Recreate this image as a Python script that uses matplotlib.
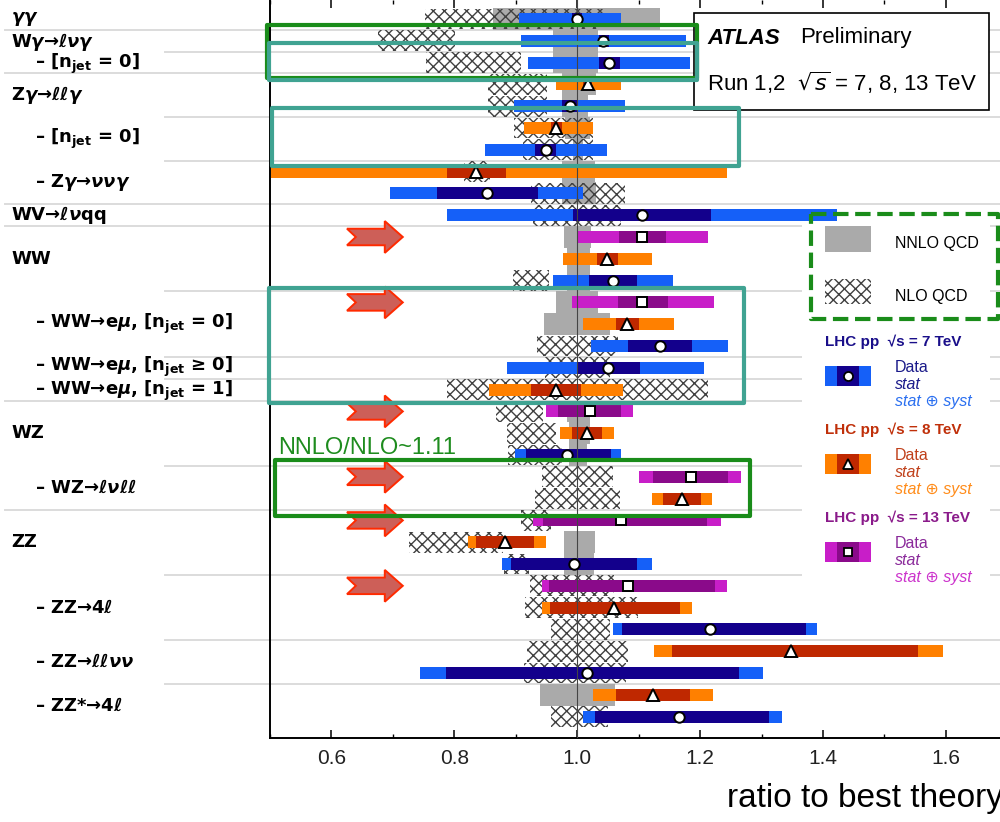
import numpy as np
import matplotlib
matplotlib.use('Agg')
import matplotlib.pyplot as plt
import matplotlib.transforms as mtransforms
from matplotlib.patches import Rectangle, Polygon

plt.rcParams['mathtext.fontset'] = 'custom'
plt.rcParams['mathtext.rm'] = 'DejaVu Sans:bold'
plt.rcParams['mathtext.it'] = 'DejaVu Sans:italic:bold'
plt.rcParams['mathtext.bf'] = 'DejaVu Sans:bold'
plt.rcParams['hatch.linewidth'] = 1.0

# one entry per measurement row, top to bottom
energy = [7, 7, 7, 8, 7, 8, 7, 8, 7, 7, 13, 8, 7, 13, 8, 7, 7, 8,
          13, 8, 7, 13, 8, 13, 8, 7, 13, 8, 7, 8, 7, 8, 7]
centre = [1.000, 1.042, 1.052, 1.017, 0.988, 0.966, 0.949, 0.836, 0.853,
          1.105, 1.106, 1.049, 1.059, 1.106, 1.081, 1.134, 1.050, 0.965,
          1.020, 1.016, 0.983, 1.185, 1.171, 1.071, 0.882, 0.995, 1.083,
          1.060, 1.216, 1.348, 1.016, 1.124, 1.165]
stat_lo = [0.992, 1.036, 1.035, 1.010, 0.975, 0.957, 0.931, 0.788, 0.771,
           0.993, 1.068, 1.032, 1.019, 1.067, 1.063, 1.082, 1.000, 0.924,
           0.969, 0.992, 0.916, 1.124, 1.140, 0.944, 0.835, 0.892, 0.954,
           0.956, 1.073, 1.154, 0.786, 1.063, 1.029]
stat_hi = [1.008, 1.051, 1.070, 1.024, 1.002, 0.975, 0.966, 0.884, 0.936,
           1.217, 1.144, 1.067, 1.098, 1.148, 1.101, 1.186, 1.102, 1.006,
           1.071, 1.041, 1.055, 1.245, 1.201, 1.211, 0.929, 1.098, 1.225,
           1.168, 1.372, 1.555, 1.263, 1.184, 1.312]
tot_lo = [0.906, 0.908, 0.920, 0.965, 0.897, 0.913, 0.850, 0.502, 0.696,
          0.788, 0.999, 0.977, 0.961, 0.992, 1.010, 1.022, 0.885, 0.857,
          0.949, 0.972, 0.899, 1.101, 1.122, 0.928, 0.822, 0.877, 0.943,
          0.942, 1.058, 1.125, 0.744, 1.026, 1.010]
tot_hi = [1.072, 1.177, 1.184, 1.072, 1.078, 1.025, 1.049, 1.243, 1.010,
          1.422, 1.213, 1.121, 1.156, 1.223, 1.158, 1.246, 1.206, 1.074,
          1.091, 1.060, 1.071, 1.267, 1.219, 1.234, 0.949, 1.122, 1.243,
          1.186, 1.390, 1.596, 1.302, 1.221, 1.333]
nan = np.nan
nnlo_lo = [0.863, 0.960, 0.960, 0.975, 0.975, 0.980, 0.993, 0.975, 0.975,
           nan, 0.978, 0.984, 0.984, 0.966, 0.946, nan, nan, nan,
           0.984, 0.987, 0.987, nan, nan, nan, 0.978, 0.978, nan,
           nan, nan, nan, nan, 0.939, nan]
nnlo_hi = [1.135, 1.034, 1.034, 1.030, 1.017, 1.020, 1.009, 1.029, 1.030,
           nan, 1.023, 1.021, 1.021, 1.034, 1.054, nan, nan, nan,
           1.021, 1.021, 1.016, nan, nan, nan, 1.029, 1.027, nan,
           nan, nan, nan, nan, 1.061, nan]
nlo_lo = [0.752, 0.676, 0.754, 0.854, 0.855, 0.897, 0.912, 0.816, 0.924,
          0.928, nan, nan, 0.896, nan, nan, 0.934, 0.947, 0.788,
          0.868, 0.885, 0.888, 0.942, 0.931, 0.909, 0.726, 0.880, 0.923,
          0.915, 0.958, 0.918, 0.914, nan, 0.958]
nlo_hi = [1.042, 0.801, 0.908, 0.950, 0.950, 1.025, 1.026, 0.858, 1.077,
          1.072, nan, nan, 0.954, nan, nan, 1.067, 1.053, 1.212,
          0.944, 0.966, 0.975, 1.059, 1.070, 0.958, 0.879, 0.922, 1.060,
          1.099, 1.053, 1.083, 1.079, nan, 1.050]

labels = [r'$\gamma\gamma$', r'W$\gamma$→$\ell\nu\gamma$', r'– [n$_{\rm jet}$ = 0]',
          r'Z$\gamma$→$\ell\ell\gamma$', r'– [n$_{\rm jet}$ = 0]', r'– Z$\gamma$→$\nu\nu\gamma$',
          r'WV→$\ell\nu$qq', 'WW', r'– WW→e$\mu$, [n$_{\rm jet}$ = 0]',
          r'– WW→e$\mu$, [n$_{\rm jet}$ ≥ 0]', r'– WW→e$\mu$, [n$_{\rm jet}$ = 1]',
          'WZ', r'– WZ→$\ell\nu\ell\ell$', 'ZZ', r'– ZZ→4$\ell$',
          r'– ZZ→$\ell\ell\nu\nu$', r'– ZZ*→4$\ell$']
label_rows = [0, 1.05, 2.05, 3.5, 5.5, 7.5, 9, 11, 14, 15.95, 17.05, 19, 21.5, 24, 27, 29.5, 31.5]
label_sub = [0, 0, 1, 0, 1, 1, 0, 0, 1, 1, 1, 0, 1, 0, 1, 1, 1]

sep_rows = [0.5, 1.5, 2.5, 4.5, 6.5, 8.5, 9.5, 12.5, 15.5, 16.5, 17.5, 20.5,
            22.5, 25.5, 28.5, 30.5]
sep_full = [1, 0, 1, 0, 0, 1, 1, 0, 0, 0, 1, 0, 1, 0, 0, 0]
arrow_rows = [10, 13, 18, 21, 23, 26]

styles = {
    7: dict(tot='#1560f8', stat='#13008c', marker='o', ms=7.5),
    8: dict(tot='#ff8000', stat='#bf2800', marker='^', ms=8),
    13: dict(tot='#c81ec8', stat='#8a0a8a', marker='s', ms=7),
}

fig = plt.figure(figsize=(10, 8.22), dpi=100)
ax = fig.add_axes([0.27, 84 / 822, 0.73, 738 / 822])
pix = mtransforms.Affine2D().scale(1 / 1000, -1 / 822).translate(0, 1) + fig.transFigure
blend = mtransforms.blended_transform_factory(fig.transFigure, ax.transData)

rows = np.arange(len(centre))
energy = np.array(energy)
centre = np.array(centre)
stat_lo, stat_hi = np.array(stat_lo), np.array(stat_hi)
tot_lo, tot_hi = np.array(tot_lo), np.array(tot_hi)
nnlo_lo, nnlo_hi = np.array(nnlo_lo), np.array(nnlo_hi)
nlo_lo, nlo_hi = np.array(nlo_lo), np.array(nlo_hi)

# theory bands
ax.barh(rows, nnlo_hi - nnlo_lo, left=nnlo_lo, height=1.0, color='#aaaaaa', zorder=1)
ax.barh(rows, nlo_hi - nlo_lo, left=nlo_lo, height=0.95, color='none',
        edgecolor='#404040', hatch='xxx', linewidth=0, zorder=2)

# measurements
for e, st in styles.items():
    m = energy == e
    ax.barh(rows[m], (tot_hi - tot_lo)[m], left=tot_lo[m], height=0.55,
            color=st['tot'], zorder=3)
    ax.barh(rows[m], (stat_hi - stat_lo)[m], left=stat_lo[m], height=0.55,
            color=st['stat'], zorder=3.2)
    ax.plot(centre[m], rows[m], ls='none', marker=st['marker'], ms=st['ms'],
            mfc='white', mec='black', mew=1.4, zorder=5)

ax.axvline(1.0, color='#444444', lw=0.8, zorder=4)

# separators and row labels
for y, full in zip(sep_rows, sep_full):
    x0 = 0.005 if full else 0.165
    ax.plot([x0, 1.0], [y, y], transform=blend, color='#dcdcdc', lw=1.4,
            clip_on=False, zorder=0.5)
for txt, y, sub in zip(labels, label_rows, label_sub):
    ax.text(0.035 if sub else 0.011, y, txt, transform=blend, fontsize=13,
            fontweight='bold', family='DejaVu Sans', va='center', ha='left',
            math_fontfamily='custom')

# red arrows next to 13 TeV results
for r in arrow_rows:
    xs = [0.6253, 0.6868, 0.6868, 0.7161, 0.6868, 0.6868, 0.6253, 0.6396]
    ys = [r - 0.38, r - 0.38, r - 0.73, r, r + 0.73, r + 0.38, r + 0.38, r]
    ax.add_patch(Polygon(np.column_stack([xs, ys]), closed=True, facecolor='#cd5f58',
                         edgecolor='#ff2a00', lw=1.4, zorder=6))

ax.set_xlim(0.5, 1.688)
ax.set_ylim(32.98, -0.87)
ax.set_yticks([])
ax.set_xticks([0.6, 0.8, 1.0, 1.2, 1.4, 1.6])
ax.set_xticklabels(['0.6', '0.8', '1.0', '1.2', '1.4', '1.6'],
                   fontsize=15, family='Liberation Sans', color='#222222')
ax.set_xticks(np.arange(0.5, 1.7, 0.1), minor=True)
ax.tick_params(axis='x', which='major', direction='in', length=6, width=1.1,
               top=True, pad=8)
ax.tick_params(axis='x', which='minor', direction='in', length=3, width=1.0, top=True)
for s in ['top', 'right']:
    ax.spines[s].set_visible(False)
for s in ['left', 'bottom']:
    ax.spines[s].set_linewidth(1.4)

fig.text(727, 798, 'ratio to best theory', transform=pix, fontsize=24,
         family='Liberation Sans', va='center', ha='left')

# ATLAS box
ax.add_patch(Rectangle((694, 13), 295, 97, transform=pix, facecolor='white',
                       edgecolor='black', lw=1.2, clip_on=False, zorder=7))
ax.text(707, 38, 'ATLAS', transform=pix, fontsize=16, family='Liberation Sans',
        fontweight='bold', style='italic', va='center', zorder=8)
ax.text(800, 38, 'Preliminary', transform=pix, fontsize=16, family='Liberation Sans',
        va='center', zorder=8)
ax.text(707, 83, r'Run 1,2  $\sqrt{s}$ = 7, 8, 13 TeV', transform=pix, fontsize=16,
        family='Liberation Sans', va='center', zorder=8, math_fontfamily='dejavusans')

# legend
ax.add_patch(Rectangle((802, 224), 188, 376, transform=pix, facecolor='white',
                       edgecolor='none', clip_on=False, zorder=6.5))
ax.add_patch(Rectangle((825, 226), 46, 26, transform=pix, facecolor='#aaaaaa',
                       edgecolor='none', clip_on=False, zorder=7))
ax.add_patch(Rectangle((825, 279), 46, 25, transform=pix, facecolor='none',
                       edgecolor='#404040', hatch='xxx', lw=0, clip_on=False, zorder=7))
ax.text(895, 243, 'NNLO QCD', transform=pix, fontsize=11.5, family='Liberation Sans',
        va='center', zorder=8)
ax.text(895, 296, 'NLO QCD', transform=pix, fontsize=11.5, family='Liberation Sans',
        va='center', zorder=8)

leg = [(7, 342, '#1a0f8a', '#1a1a8a', '#2a6ff0'),
       (8, 430, '#c0300a', '#c0401a', '#ff8c1a'),
       (13, 518, '#8a1a8a', '#8a2a9a', '#cc33cc')]
for e, y0, ctitle, cdata, csyst in leg:
    st = styles[e]
    ax.text(825, y0, 'LHC pp  √s = %d TeV' % e, transform=pix, fontsize=11,
            family=['Liberation Sans', 'DejaVu Sans'], fontweight='bold', color=ctitle,
            va='center', zorder=8)
    ax.add_patch(Rectangle((825, y0 + 24), 46, 20, transform=pix, facecolor=st['tot'],
                           edgecolor='none', clip_on=False, zorder=7))
    ax.add_patch(Rectangle((837, y0 + 24), 22, 20, transform=pix, facecolor=st['stat'],
                           edgecolor='none', clip_on=False, zorder=7.1))
    ax.plot([848], [y0 + 34], transform=pix, marker=st['marker'], ms=st['ms'] - 1,
            mfc='white', mec='black', mew=1.3, clip_on=False, zorder=8)
    ax.text(895, y0 + 25, 'Data', transform=pix, fontsize=11.5, family='Liberation Sans',
            color=cdata, va='center', zorder=8)
    ax.text(895, y0 + 42, 'stat', transform=pix, fontsize=11.5, family='Liberation Sans',
            style='italic', color=cdata, va='center', zorder=8)
    ax.text(895, y0 + 59, 'stat ⊕ syst', transform=pix, fontsize=11.5,
            family=['Liberation Sans', 'DejaVu Sans'], style='italic', color=csyst,
            va='center', zorder=8)

# highlight boxes
boxes = [((267, 25), 430, 53, '#1a8c1a', '-'),
         ((269, 43), 428, 37, '#40a392', '-'),
         ((272, 108), 467, 58, '#40a392', '-'),
         ((269, 288), 475, 115, '#40a392', '-'),
         ((275, 460), 475, 56, '#1a8c1a', '-'),
         ((811, 214), 187, 105, '#1a8c1a', '--')]
for (x0, y0), w, h, c, ls in boxes:
    ax.add_patch(Rectangle((x0, y0), w, h, transform=pix, facecolor='none', edgecolor=c,
                           lw=3.0, ls=ls, joinstyle='round', clip_on=False, zorder=9))
ax.text(278, 454, 'NNLO/NLO~1.11', transform=pix, fontsize=17, family='Liberation Sans',
        color='#1e8c1e', va='baseline', zorder=9)

fig.savefig('out.png', dpi=100)
